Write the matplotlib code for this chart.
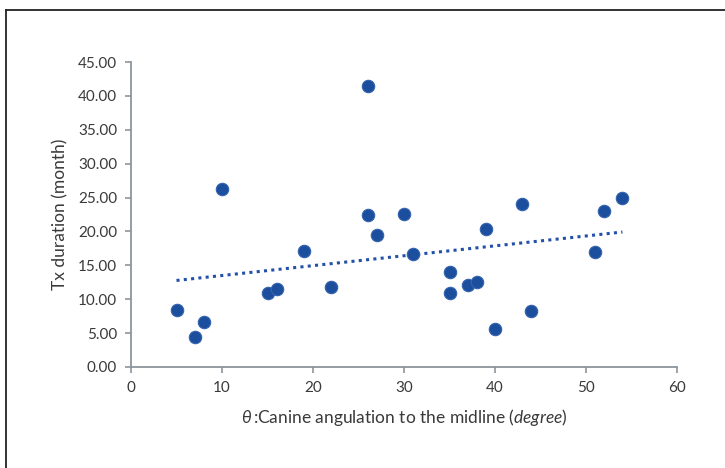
import numpy as np
import matplotlib
matplotlib.use("Agg")
import matplotlib.pyplot as plt
from matplotlib.lines import Line2D

# Data
angle_deg = [5, 7, 8, 10, 15, 16, 19, 22, 26, 26, 27, 30, 31, 35, 35, 37, 38, 39, 40, 43, 44, 51, 52, 54]
tx_months = [8.4, 4.4, 6.7, 26.3, 10.9, 11.5, 17.1, 11.8, 41.5, 22.4, 19.5, 22.6, 16.7, 14.0, 10.9,
             12.1, 12.5, 20.3, 5.6, 24.1, 8.2, 17.0, 23.0, 25.0]
x_ticks = [0, 10, 20, 30, 40, 50, 60]
y_ticks = [0, 5, 10, 15, 20, 25, 30, 35, 40, 45]

plt.rcParams['font.family'] = ['Lato', 'DejaVu Sans']
plt.rcParams['mathtext.fontset'] = 'custom'
plt.rcParams['mathtext.rm'] = 'Lato'
plt.rcParams['mathtext.it'] = 'Lato:italic'

text_col = '#3A3A3A'
axis_col = '#8C959C'

fig = plt.figure(figsize=(7.25, 4.68), dpi=100)
ax = fig.add_axes([131/725, 1-367/468, (677-131)/725, (367-62)/468])

x = np.array(angle_deg, dtype=float)
y = np.array(tx_months, dtype=float)
ax.scatter(x, y, s=80, color='#1C4E9E', edgecolors='#3563AE', linewidths=0.8, zorder=3)

m, b = np.polyfit(x, y, 1)
xs = np.array([x.min(), x.max()])
ax.plot(xs, m*xs + b, linestyle=(0, (1, 1.4)), color='#2350A8', linewidth=2.2, zorder=2)

ax.set_xlim(0, 60)
ax.set_ylim(0, 45)
ax.set_xticks(x_ticks)
ax.set_xticklabels([str(t) for t in x_ticks])
ax.set_yticks(y_ticks)
ax.set_yticklabels([f"{t:.2f}" for t in y_ticks])

for s in ['top', 'right']:
    ax.spines[s].set_visible(False)
for s in ['left', 'bottom']:
    ax.spines[s].set_color(axis_col)
    ax.spines[s].set_linewidth(1.3)
ax.tick_params(axis='both', colors=axis_col, labelcolor=text_col, labelsize=11,
               length=4, width=1.2, direction='out')
ax.tick_params(axis='y', pad=6)
ax.tick_params(axis='x', pad=6)

ax.set_ylabel('Tx duration (month)', fontsize=12.5, color=text_col, labelpad=7)
ax.set_xlabel(r'$\theta\,$:Canine angulation to the midline $\mathit{(degree)}$',
              fontsize=12.5, color=text_col, labelpad=9)

# outer frame (left and top edges visible)
fig.add_artist(Line2D([6/725, 6/725], [0, 1-10/468], transform=fig.transFigure,
                      color='#222222', linewidth=1.3))
fig.add_artist(Line2D([6/725, 1], [1-10/468, 1-10/468], transform=fig.transFigure,
                      color='#222222', linewidth=1.3))

fig.savefig('out.png', dpi=100)
